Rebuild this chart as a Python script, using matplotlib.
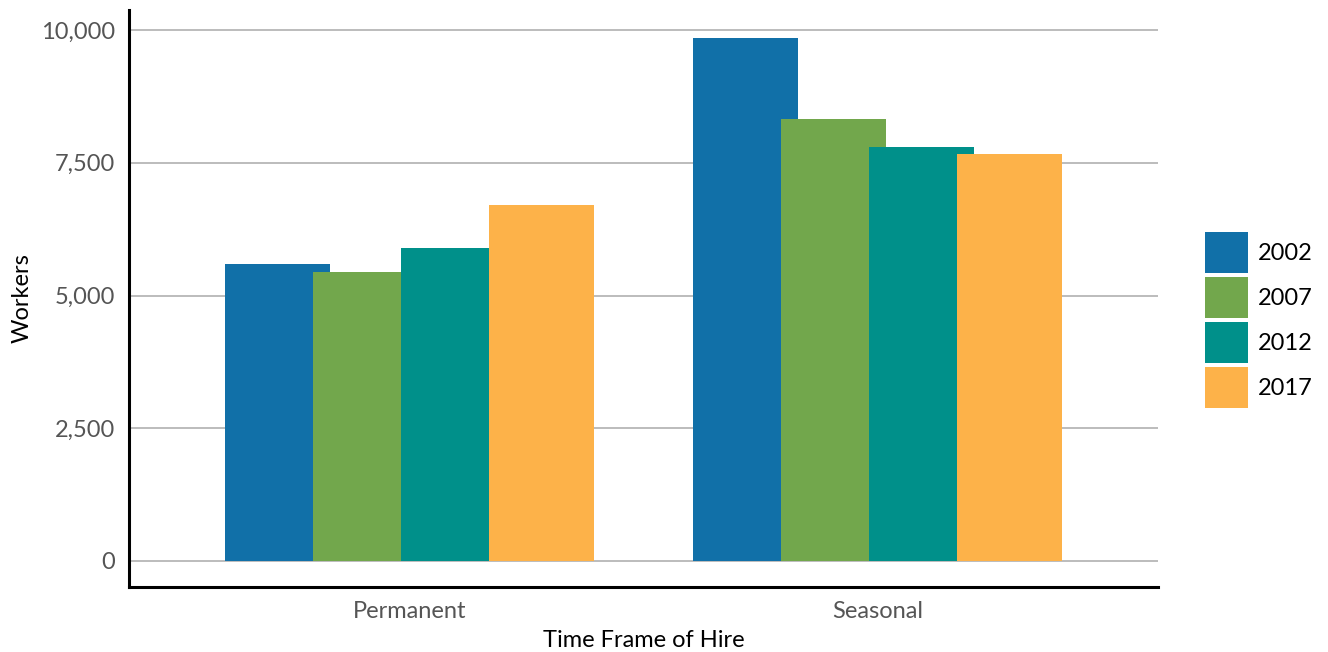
import matplotlib
matplotlib.use('Agg')
import matplotlib.pyplot as plt
import numpy as np
from matplotlib.ticker import FuncFormatter

plt.rcParams['font.family'] = ['Lato', 'DejaVu Sans']

# data
categories = ['Permanent', 'Seasonal']
years = ['2002', '2007', '2012', '2017']
workers = {
    '2002': [5600, 9850],
    '2007': [5450, 8320],
    '2012': [5900, 7800],
    '2017': [6700, 7660],
}
colors = ['#1170a8', '#72a74c', '#00908a', '#fdb249']

fig = plt.figure(figsize=(13.28, 6.52), dpi=100)
ax = fig.add_axes([129 / 1328, 1 - 587 / 652, (1158 - 129) / 1328, (587 - 10) / 652])

x = np.arange(len(categories))
step = 0.188
width = 0.224
for i, (yr, c) in enumerate(zip(years, colors)):
    ax.bar(x + (i - 1.5) * step, workers[yr], width=width, color=c, label=yr, zorder=2 + i)

ax.set_xlim(-0.6, 1.6)
ax.set_ylim(-490, 10377)
ax.set_yticks([0, 2500, 5000, 7500, 10000])
ax.yaxis.set_major_formatter(FuncFormatter(lambda v, p: f'{int(v):,}'))
ax.set_xticks(x)
ax.set_xticklabels(categories)

ax.grid(axis='y', color='#b0b0b0', linewidth=1.2, zorder=0)
ax.set_axisbelow(True)
for s in ['top', 'right']:
    ax.spines[s].set_visible(False)
ax.spines['left'].set_linewidth(2.2)
ax.spines['bottom'].set_linewidth(2.2)
ax.tick_params(axis='both', length=0, labelsize=17, labelcolor='#555555')
ax.tick_params(axis='y', pad=10)
ax.tick_params(axis='x', pad=10)

ax.set_ylabel('Workers', fontsize=17, color='black', labelpad=6)
ax.set_xlabel('Time Frame of Hire', fontsize=17, color='black', labelpad=6)

fig.legend(loc='center left', bbox_to_anchor=(1205 / 1328, 1 - 320 / 652), frameon=False,
           fontsize=17, handlelength=1.8, handleheight=2.3, labelspacing=0.17,
           handletextpad=0.45, borderaxespad=0, borderpad=0)

fig.savefig('out.png', dpi=100, facecolor='white')
